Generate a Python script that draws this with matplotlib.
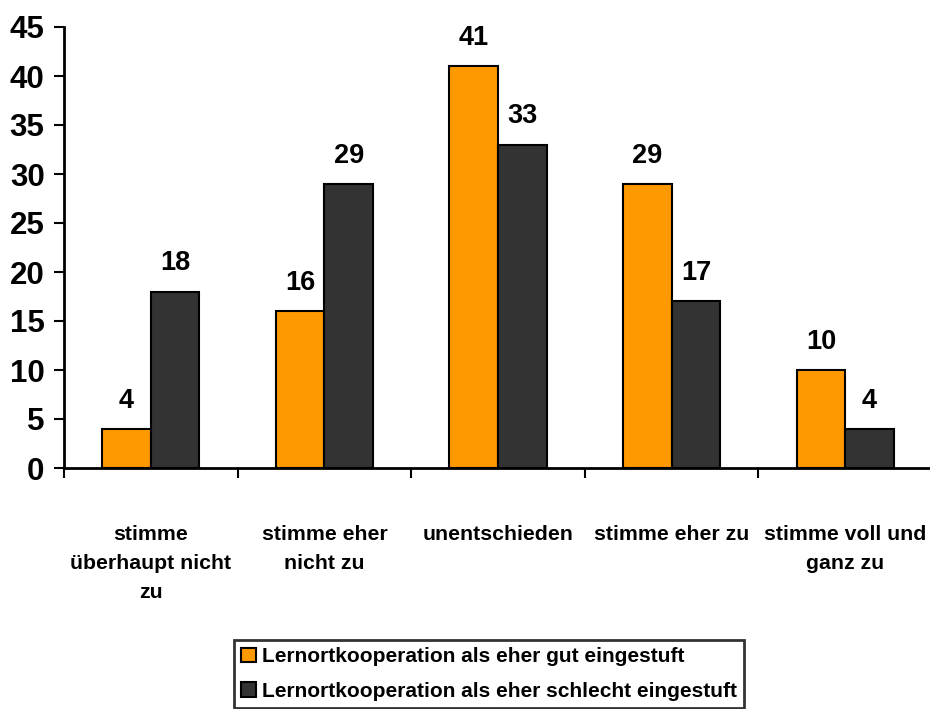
import matplotlib
matplotlib.use("Agg")
import matplotlib.pyplot as plt
import numpy as np
from matplotlib.patches import Patch

categories = ["stimme\nüberhaupt nicht\nzu", "stimme eher\nnicht zu", "unentschieden",
              "stimme eher zu", "stimme voll und\nganz zu"]
series_names = ["Lernortkooperation als eher gut eingestuft",
                "Lernortkooperation als eher schlecht eingestuft"]
gut = [4, 16, 41, 29, 10]
schlecht = [18, 29, 33, 17, 4]
yticks = [0, 5, 10, 15, 20, 25, 30, 35, 40, 45]

plt.rcParams['font.family'] = ['Liberation Sans', 'DejaVu Sans']
plt.rcParams['font.weight'] = 'bold'

fig = plt.figure(figsize=(9.3, 7.09), dpi=100)
ax = fig.add_axes([64/930, 241/709, 868/930, 441/709])

x = np.arange(len(categories))
w = 0.28
c1, c2 = "#FF9900", "#333333"
b1 = ax.bar(x - w/2, gut, w, color=c1, edgecolor="black", linewidth=1.5)
b2 = ax.bar(x + w/2, schlecht, w, color=c2, edgecolor="black", linewidth=1.5)

for bars, vals in ((b1, gut), (b2, schlecht)):
    for r, v in zip(bars, vals):
        ax.annotate(str(v), (r.get_x() + r.get_width()/2, v), xytext=(0, 11),
                    textcoords="offset points", ha="center", va="bottom",
                    fontsize=19.5, fontweight="bold")

ax.set_xlim(-0.5, len(categories) - 0.5)
ax.set_ylim(0, 45)
ax.set_yticks(yticks)
ax.set_yticklabels([str(t) for t in yticks], fontsize=22.5, fontweight="bold")
ax.tick_params(axis='y', length=7, width=1.5, pad=7)

ax.set_xticks(np.arange(len(categories) + 1) - 0.5)
ax.set_xticklabels([])
ax.tick_params(axis='x', which='major', length=7, width=1.5)
ax.set_xticks(x, minor=True)
ax.set_xticklabels(categories, minor=True, fontsize=15.3, fontweight="bold",
                   linespacing=1.68)
ax.tick_params(axis='x', which='minor', length=0, pad=41)

for s in ("top", "right"):
    ax.spines[s].set_visible(False)
for s in ("left", "bottom"):
    ax.spines[s].set_linewidth(2)

handles = [Patch(facecolor=c1, edgecolor="black", linewidth=1.5),
           Patch(facecolor=c2, edgecolor="black", linewidth=1.5)]
leg = fig.legend(handles, series_names, loc="upper center",
                 bbox_to_anchor=(489/930, 1 - 640/709), fontsize=15,
                 frameon=True, fancybox=False, edgecolor="black",
                 handlelength=0.7, handleheight=0.7, handletextpad=0.3,
                 borderpad=0.35, labelspacing=0.75, borderaxespad=0)
leg.get_frame().set_linewidth(2)
for t in leg.get_texts():
    t.set_fontweight("bold")

fig.savefig("out.png", dpi=100)
